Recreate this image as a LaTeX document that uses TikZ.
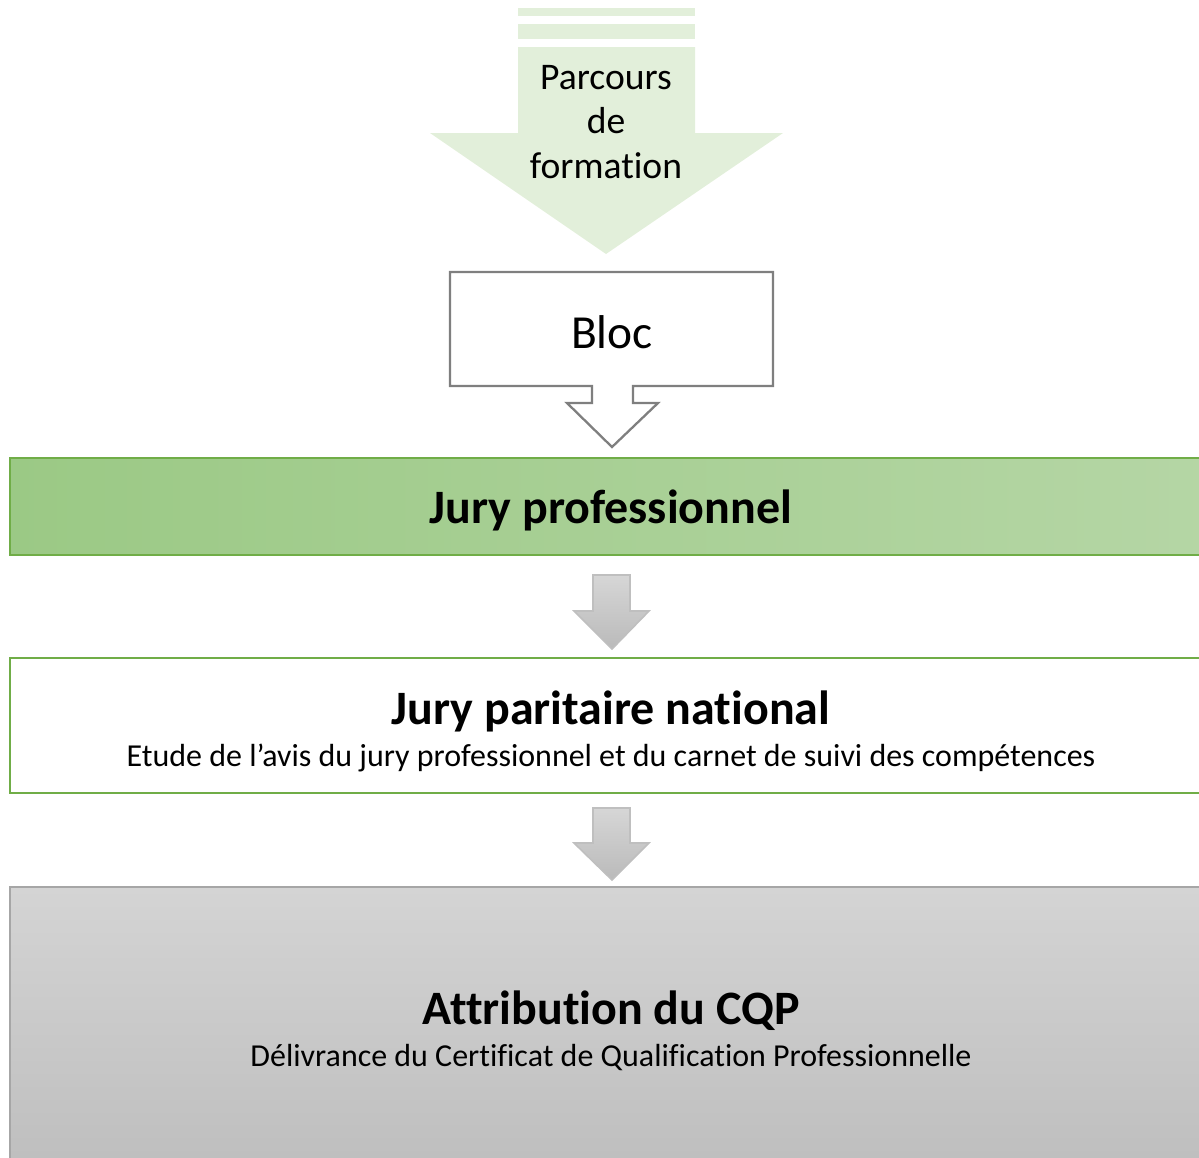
\documentclass[tikz,border=0pt]{standalone}
\usepackage{fontspec}
\setmainfont{Carlito}[Ligatures={NoCommon}]
\definecolor{paleGreen}{RGB}{226,239,218}
\definecolor{juryGreen}{RGB}{112,173,71}
\definecolor{boxGray}{RGB}{127,127,127}
\definecolor{arrowGray}{RGB}{191,191,191}
\tikzset{
  bigtext/.style={font=\fontsize{21.4}{25.2}\selectfont, align=center},
  titletext/.style={font=\fontsize{27.3}{32}\selectfont\bfseries},
  subtext/.style={font=\fontsize{18.2}{22}\selectfont},
  grayarrow/.style={draw=arrowGray, line width=0.9, top color=black!16, bottom color=black!27},
}

\begin{document}
\begin{tikzpicture}[x=0.02cm, y=-0.02cm]
			%%%%% START %%%%%
			\useasboundingbox (0,0) rectangle (1199,1157);
			
			% parcours de formation
			\fill[paleGreen] (518, 8) rectangle (695, 16);
			\fill[paleGreen] (518, 24) rectangle (695, 39);
			\fill[paleGreen] (518, 47) -- (695, 47) -- (695, 133) -- (783, 133) -- (606, 254) -- (430, 133) -- (518, 133) -- cycle;
			\node[bigtext] (parcours) at (606, 122) {Parcours\\de\\formation};
			
			% bloc
			\draw[boxGray, line width=1.3, fill=white] (450, 272) -- (773, 272) -- (773, 386) -- (633, 386) -- (633, 403) -- (658, 403) -- (612, 447) -- (567, 403) -- (592, 403) -- (592, 386) -- (450, 386) -- cycle;
			\node[font=\fontsize{27}{32}\selectfont] (bloc) at (612, 332) {Bloc};
			
			% jury professionnel
			\draw[juryGreen, line width=0.9, left color={rgb,255:red,155;green,201;blue,133}, right color={rgb,255:red,181;green,214;blue,165}] (10, 458) rectangle (1215, 555);
			\node[titletext] (jpro) at (611, 510) {Jury professionnel};
			
			\draw[grayarrow] (593, 575) -- (630, 575) -- (630, 611) -- (649, 611) -- (612, 649) -- (574, 611) -- (593, 611) -- cycle;
			
			% jury paritaire
			\draw[juryGreen, line width=1.3, fill=white] (10, 658) rectangle (1215, 793);
			\node[titletext] (jpar) at (611, 711) {Jury paritaire national};
			\node[subtext] (etude) at (611, 758) {Etude de l’avis du jury professionnel et du carnet de suivi des compétences};
			
			\draw[grayarrow] (593, 808) -- (630, 808) -- (630, 843) -- (649, 843) -- (612, 880) -- (574, 843) -- (593, 843) -- cycle;
			
			% attribution
			\draw[black!35, line width=1.3, top color={rgb,255:red,212;green,212;blue,212}, bottom color={rgb,255:red,190;green,190;blue,190}] (10, 887) rectangle (1215, 1170);
			\node[titletext] (cqp) at (611, 1011) {Attribution du CQP};
			\node[subtext] (deliv) at (611, 1057) {Délivrance du Certificat de Qualification Professionnelle};
			
			%%%%% END %%%%%
\end{tikzpicture}
\end{document}
